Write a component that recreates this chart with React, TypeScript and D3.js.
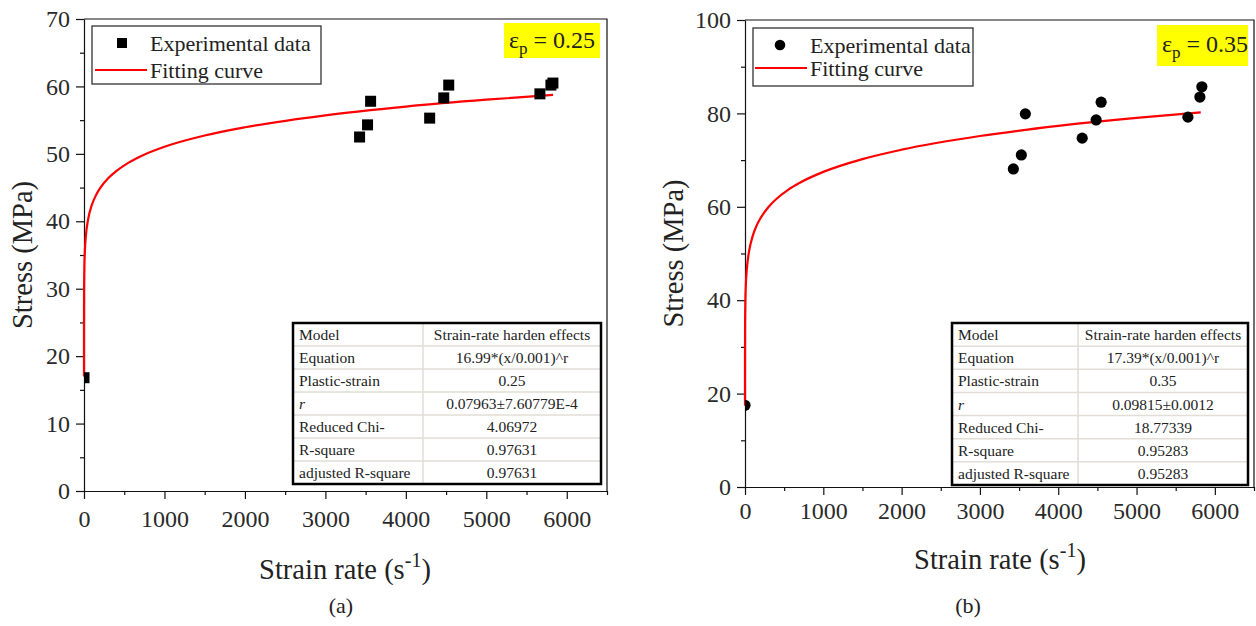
import React, { useRef, useEffect } from "react";
import * as d3 from "d3";

// ---- data ----
// panel (a), plastic strain 0.25
const rateA = [0.001, 3425, 3524, 3562, 4296, 4471, 4533, 5666, 5803, 5828];
const stressA = [16.8, 52.5, 54.3, 57.8, 55.3, 58.3, 60.2, 58.9, 60.2, 60.5];
const fitRateA = [0.001, 0.01, 0.1, 1, 5, 10, 25, 50, 100, 150, 200, 300, 400, 550, 700, 1000, 1500, 2000, 3000, 4000, 5000, 5830];
const fitStressA = [16.99, 20.41, 24.52, 29.45, 33.48, 35.38, 38.05, 40.21, 42.5, 43.89, 44.91, 46.38, 47.45, 48.67, 49.62, 51.05, 52.72, 53.94, 55.72, 57.01, 58.03, 58.74];
const tableValuesA = ["Strain-rate harden effects", "16.99*(x/0.001)^r", "0.25", "0.07963\u00B17.60779E-4", "4.06972", "0.97631", "0.97631"];

// panel (b), plastic strain 0.35
const rateB = [0.001, 3427, 3529, 3580, 4306, 4484, 4548, 5656, 5809, 5834];
const stressB = [17.5, 68.1, 71.1, 79.9, 74.7, 78.6, 82.4, 79.2, 83.5, 85.7];
const fitRateB = [0.001, 0.01, 0.1, 1, 5, 10, 25, 50, 100, 150, 200, 300, 400, 550, 700, 1000, 1500, 2000, 3000, 4000, 5000, 5820];
const fitStressB = [17.39, 21.8, 27.33, 34.26, 40.12, 42.94, 46.98, 50.29, 53.83, 56.02, 57.62, 59.96, 61.68, 63.64, 65.16, 67.48, 70.22, 72.23, 75.16, 77.32, 79.03, 80.2];
const tableValuesB = ["Strain-rate harden effects", "17.39*(x/0.001)^r", "0.35", "0.09815\u00B10.0012", "18.77339", "0.95283", "0.95283"];

const tableLabels = ["Model", "Equation", "Plastic-strain", "r", "Reduced Chi-", "R-square", "adjusted R-square"];
const xTicks = [0, 1000, 2000, 3000, 4000, 5000, 6000];
const xMinorTicks = [500, 1500, 2500, 3500, 4500, 5500, 6500];

const FONT = "'Liberation Serif', 'Times New Roman', serif";

const panels = [
  {
    id: "a",
    rate: rateA, stress: stressA, fitRate: fitRateA, fitStress: fitStressA,
    values: tableValuesA, eps: "0.25", marker: "square",
    left: 84, right: 607, top: 19, bottom: 491,
    yMax: 70, yTicks: d3.range(0, 71, 10), yMinor: d3.range(5, 70, 10),
    xLabelPad: 11,
    xTitle: [345, 579], yTitleX: 22, caption: [341, 613],
    legend: [92, 26, 321, 84], legendRows: [43, 70], legendText: 150, legendMark: 122, legendLine: [95, 147],
    epsBox: [504, 23, 600, 58], epsText: [509, 48],
    table: [293, 323, 601, 484], tableDiv: 423,
  },
  {
    id: "b",
    rate: rateB, stress: stressB, fitRate: fitRateB, fitStress: fitStressB,
    values: tableValuesB, eps: "0.35", marker: "circle",
    left: 745, right: 1254, top: 20, bottom: 487,
    yMax: 100, yTicks: d3.range(0, 101, 20), yMinor: d3.range(10, 100, 20),
    xLabelPad: 7,
    xTitle: [1000, 569], yTitleX: 673, caption: [968, 613],
    legend: [753, 28, 973, 86], legendRows: [45, 68], legendText: 810, legendMark: 780, legendLine: [755, 807],
    epsBox: [1157, 25, 1248, 66], epsText: [1162, 52],
    table: [952, 323, 1248, 485], tableDiv: 1078,
  },
];

function drawPanel(svg: any, p: any) {
  const x = d3.scaleLinear().domain([0, 6500]).range([p.left, p.right]);
  const y = d3.scaleLinear().domain([0, p.yMax]).range([p.bottom, p.top]);
  const g = svg.append("g").attr("font-family", FONT);

  // clip for the markers
  g.append("clipPath")
    .attr("id", "clip-" + p.id)
    .append("rect")
    .attr("x", p.left)
    .attr("y", p.top)
    .attr("width", p.right - p.left)
    .attr("height", p.bottom - p.top);

  // axes
  const xAxis = g
    .append("g")
    .attr("transform", "translate(0," + p.bottom + ")")
    .call(
      d3.axisBottom(x).tickValues(xTicks).tickSize(8).tickSizeOuter(0)
        .tickPadding(p.xLabelPad).tickFormat(d3.format("d"))
    );
  g.append("g")
    .attr("transform", "translate(0," + p.bottom + ")")
    .call(d3.axisBottom(x).tickValues(xMinorTicks).tickSize(4).tickFormat(() => ""))
    .call((s: any) => s.select(".domain").remove());
  const yAxis = g
    .append("g")
    .attr("transform", "translate(" + p.left + ",0)")
    .call(d3.axisLeft(y).tickValues(p.yTicks).tickSize(8).tickSizeOuter(0).tickPadding(6));
  g.append("g")
    .attr("transform", "translate(" + p.left + ",0)")
    .call(d3.axisLeft(y).tickValues(p.yMinor).tickSize(4).tickFormat(() => ""))
    .call((s: any) => s.select(".domain").remove());

  g.selectAll(".tick line").attr("stroke", "#111").attr("stroke-width", 1.2);
  g.selectAll(".domain").attr("stroke", "#111").attr("stroke-width", 1.2);
  [xAxis, yAxis].forEach((a) => {
    a.attr("font-family", FONT).attr("font-size", 24);
    a.selectAll("text").attr("font-size", 24).attr("fill", "#2a2a2a").style("font-family", FONT);
  });

  // frame top and right
  g.append("path")
    .attr("d", `M${p.left},${p.top}H${p.right}V${p.bottom}`)
    .attr("fill", "none")
    .attr("stroke", "#111")
    .attr("stroke-width", 1.2);

  // axis titles
  const xt = g
    .append("text")
    .attr("x", p.xTitle[0])
    .attr("y", p.xTitle[1])
    .attr("text-anchor", "middle")
    .attr("font-size", 28.5)
    .attr("fill", "#222");
  xt.append("tspan").text("Strain rate (s");
  xt.append("tspan").attr("font-size", 20).attr("dy", -12).text("-1");
  xt.append("tspan").attr("dy", 12).text(")");

  g.append("text")
    .attr("transform", `translate(${p.yTitleX},${(p.top + p.bottom) / 2}) rotate(-90)`)
    .attr("text-anchor", "middle")
    .attr("dominant-baseline", "central")
    .attr("font-size", 28.5)
    .attr("fill", "#222")
    .text("Stress (MPa)");

  g.append("text")
    .attr("x", p.caption[0])
    .attr("y", p.caption[1])
    .attr("text-anchor", "middle")
    .attr("font-size", 22)
    .attr("fill", "#222")
    .text("(" + p.id + ")");

  // fitting curve
  const line = d3
    .line<number>()
    .x((d, i) => x(p.fitRate[i]))
    .y((d) => y(d))
    .curve(d3.curveMonotoneX);
  g.append("path")
    .attr("d", line(p.fitStress))
    .attr("fill", "none")
    .attr("stroke", "#ff0000")
    .attr("stroke-width", 2.2);

  // experimental points
  const pts = g.append("g").attr("clip-path", "url(#clip-" + p.id + ")");
  p.rate.forEach((r: number, i: number) => {
    const cx = x(r);
    const cy = y(p.stress[i]);
    if (p.marker === "square") {
      pts.append("rect").attr("x", cx - 5.5).attr("y", cy - 5.5).attr("width", 11).attr("height", 11).attr("fill", "#000");
    } else {
      pts.append("circle").attr("cx", cx).attr("cy", cy).attr("r", 5.6).attr("fill", "#000");
    }
  });

  // legend
  const [lx0, ly0, lx1, ly1] = p.legend;
  g.append("rect")
    .attr("x", lx0).attr("y", ly0).attr("width", lx1 - lx0).attr("height", ly1 - ly0)
    .attr("fill", "#fff").attr("stroke", "#333").attr("stroke-width", 1.3);
  if (p.marker === "square") {
    g.append("rect").attr("x", p.legendMark - 5).attr("y", p.legendRows[0] - 5).attr("width", 10).attr("height", 10).attr("fill", "#000");
  } else {
    g.append("circle").attr("cx", p.legendMark).attr("cy", p.legendRows[0]).attr("r", 5.3).attr("fill", "#000");
  }
  g.append("line")
    .attr("x1", p.legendLine[0]).attr("x2", p.legendLine[1])
    .attr("y1", p.legendRows[1]).attr("y2", p.legendRows[1])
    .attr("stroke", "#ff0000").attr("stroke-width", 2);
  ["Experimental data", "Fitting curve"].forEach((t, i) => {
    g.append("text")
      .attr("x", p.legendText)
      .attr("y", p.legendRows[i])
      .attr("dominant-baseline", "central")
      .attr("font-size", 22)
      .attr("fill", "#222")
      .text(t);
  });

  // plastic strain label
  const [ex0, ey0, ex1, ey1] = p.epsBox;
  g.append("rect").attr("x", ex0).attr("y", ey0).attr("width", ex1 - ex0).attr("height", ey1 - ey0).attr("fill", "#ffff00");
  const et = g.append("text").attr("x", p.epsText[0]).attr("y", p.epsText[1]).attr("font-size", 24).attr("fill", "#222");
  et.append("tspan").text("\u03B5");
  et.append("tspan").attr("font-size", 17).attr("dy", 6).text("p");
  et.append("tspan").attr("dy", -6).text(" = " + p.eps);

  // parameter table
  const [tx0, ty0, tx1, ty1] = p.table;
  const rowH = (ty1 - ty0) / tableLabels.length;
  g.append("rect").attr("x", tx0).attr("y", ty0).attr("width", tx1 - tx0).attr("height", ty1 - ty0).attr("fill", "#fff");
  d3.range(1, tableLabels.length).forEach((i) => {
    g.append("line")
      .attr("x1", tx0).attr("x2", tx1)
      .attr("y1", ty0 + i * rowH).attr("y2", ty0 + i * rowH)
      .attr("stroke", "#e2ded6").attr("stroke-width", 1.5);
  });
  g.append("line")
    .attr("x1", p.tableDiv).attr("x2", p.tableDiv).attr("y1", ty0).attr("y2", ty1)
    .attr("stroke", "#e2ded6").attr("stroke-width", 1.5);
  g.append("rect").attr("x", tx0).attr("y", ty0).attr("width", tx1 - tx0).attr("height", ty1 - ty0)
    .attr("fill", "none").attr("stroke", "#000").attr("stroke-width", 2.5);
  tableLabels.forEach((t, i) => {
    const cy = ty0 + (i + 0.5) * rowH;
    g.append("text")
      .attr("x", tx0 + 6).attr("y", cy)
      .attr("dominant-baseline", "central")
      .attr("font-size", 15.5)
      .attr("font-style", t === "r" ? "italic" : "normal")
      .attr("fill", "#222")
      .text(t);
    g.append("text")
      .attr("x", (p.tableDiv + tx1) / 2).attr("y", cy)
      .attr("text-anchor", "middle")
      .attr("dominant-baseline", "central")
      .attr("font-size", 15.5)
      .attr("fill", "#222")
      .text(p.values[i]);
  });
}

const App = () => {
  const ref = useRef<SVGSVGElement>(null);

  useEffect(() => {
    if (!ref.current) return;
    const svg = d3.select(ref.current);
    svg.selectAll("*").remove();
    panels.forEach((p) => drawPanel(svg, p));
  }, []);

  return (
    <svg
      ref={ref}
      width={1256}
      height={626}
      style={{ position: "absolute", left: 0, top: 0, background: "#fff" }}
    />
  );
};

export default App;
